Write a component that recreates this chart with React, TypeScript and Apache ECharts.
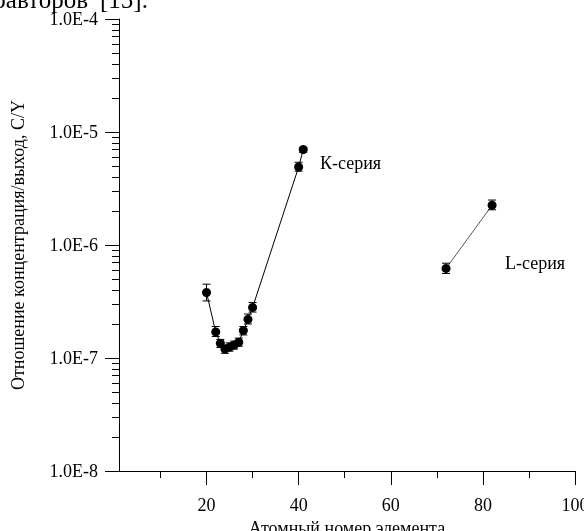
import React, { useEffect, useRef } from "react";
import * as echarts from "echarts";

// K-series (atomic number, C/Y ratio, error low, error high)
const kZ = [20, 22, 23, 24, 25, 26, 27, 28, 29, 30, 40, 41];
const kVal = [3.8e-7, 1.7e-7, 1.35e-7, 1.2e-7, 1.25e-7, 1.3e-7, 1.38e-7, 1.75e-7, 2.2e-7, 2.8e-7, 4.9e-6, 7.0e-6];
const kLow = [3.2e-7, 1.55e-7, 1.24e-7, 1.1e-7, 1.15e-7, 1.2e-7, 1.27e-7, 1.6e-7, 2.0e-7, 2.55e-7, 4.5e-6, 6.6e-6];
const kHigh = [4.5e-7, 1.9e-7, 1.46e-7, 1.3e-7, 1.36e-7, 1.41e-7, 1.5e-7, 1.9e-7, 2.45e-7, 3.1e-7, 5.4e-6, 7.3e-6];

// L-series
const lZ = [72, 82];
const lVal = [6.2e-7, 2.25e-6];
const lLow = [5.6e-7, 2.05e-6];
const lHigh = [6.9e-7, 2.5e-6];

// Axis ticks
const xMajorTicks = [20, 40, 60, 80, 100];
const xMinorTicks = [10, 30, 50, 70, 90];
const yDecades = [1e-8, 1e-7, 1e-6, 1e-5];
const yMultipliers = [2, 3, 4, 5, 6, 7, 8, 9];

const FONT = "'Liberation Serif', 'Times New Roman', serif";

export default function App() {
  const ref = useRef<HTMLDivElement>(null);
  useEffect(() => {
    if (!ref.current) return;
    const chart = echarts.init(ref.current, undefined, { renderer: "svg" });
    const yMinor: number[] = [];
    yDecades.forEach((d) => yMultipliers.forEach((m) => yMinor.push(Number((d * m).toPrecision(3)))));

    const errRender = (params: any, api: any) => {
      const x = api.value(0);
      const lo = api.coord([x, api.value(1)]);
      const hi = api.coord([x, api.value(2)]);
      const w = 4;
      const st = { stroke: "#000", lineWidth: 1 };
      return {
        type: "group",
        children: [
          { type: "line", shape: { x1: lo[0], y1: lo[1], x2: hi[0], y2: hi[1] }, style: st },
          { type: "line", shape: { x1: lo[0] - w, y1: lo[1], x2: lo[0] + w, y2: lo[1] }, style: st },
          { type: "line", shape: { x1: hi[0] - w, y1: hi[1], x2: hi[0] + w, y2: hi[1] }, style: st },
        ],
      };
    };

    const common = { min: 1, max: 100, type: "value" as const };
    chart.setOption({
      animation: false,
      grid: { left: 119, right: 9, top: 19, bottom: 60, containLabel: false, outerBoundsMode: "none" },
      xAxis: [
        {
          ...common,
          position: "bottom",
          name: "Атомный номер элемента",
          nameLocation: "middle",
          nameGap: 39,
          nameTextStyle: { fontFamily: FONT, fontSize: 18, color: "#000" },
          axisLine: { show: true, onZero: false, lineStyle: { color: "#000", width: 1 } },
          axisTick: { show: true, customValues: xMajorTicks, length: 14, lineStyle: { color: "#000" } },
          axisLabel: { show: true, customValues: xMajorTicks, margin: 25, fontFamily: FONT, fontSize: 18, color: "#000" },
          splitLine: { show: false },
        },
        {
          ...common,
          position: "bottom",
          axisLine: { show: false },
          axisTick: { show: true, customValues: xMinorTicks, length: 7, lineStyle: { color: "#000" } },
          axisLabel: { show: false },
          splitLine: { show: false },
        },
      ],
      yAxis: [
        {
          type: "log",
          logBase: 10,
          min: 1e-8,
          max: 1e-4,
          position: "left",
          name: "Отношение концентрация/выход, C/Y",
          nameLocation: "middle",
          nameGap: 92,
          nameTextStyle: { fontFamily: FONT, fontSize: 18, color: "#000" },
          axisLine: { show: true, onZero: false, lineStyle: { color: "#000", width: 1 } },
          axisTick: { show: true, length: 14, lineStyle: { color: "#000" } },
          axisLabel: {
            margin: 21,
            fontFamily: FONT,
            fontSize: 18,
            color: "#000",
            formatter: (v: number) => v.toExponential(1).toUpperCase(),
          },
          splitLine: { show: false },
        },
        {
          type: "log",
          logBase: 10,
          min: 1e-8,
          max: 1e-4,
          position: "left",
          axisLine: { show: false },
          axisTick: { show: true, customValues: yMinor, length: 7, lineStyle: { color: "#000" } },
          axisLabel: { show: false },
          splitLine: { show: false },
        },
      ],
      series: [
        {
          type: "line",
          xAxisIndex: 0,
          yAxisIndex: 0,
          data: kZ.map((z, i) => [z, kVal[i]]),
          symbol: "circle",
          symbolSize: 9,
          itemStyle: { color: "#000" },
          lineStyle: { color: "#000", width: 1 },
          z: 3,
        },
        {
          type: "line",
          xAxisIndex: 0,
          yAxisIndex: 0,
          data: lZ.map((z, i) => [z, lVal[i]]),
          symbol: "circle",
          symbolSize: 9,
          itemStyle: { color: "#000" },
          lineStyle: { color: "#555", width: 1 },
          z: 3,
        },
        {
          type: "custom",
          xAxisIndex: 0,
          yAxisIndex: 0,
          renderItem: errRender,
          data: kZ.map((z, i) => [z, kLow[i], kHigh[i]]).concat(lZ.map((z, i) => [z, lLow[i], lHigh[i]])),
          z: 4,
        },
      ],
      graphic: [
        {
          type: "text",
          x: 88,
          y: 12,
          style: { text: "соавторов", font: `25px ${FONT}`, fill: "#000", align: "right", verticalAlign: "bottom" },
        },
        {
          type: "text",
          x: 100,
          y: 12,
          style: { text: "[15].", font: `25px ${FONT}`, fill: "#000", align: "left", verticalAlign: "bottom" },
        },
        {
          type: "text",
          x: 320,
          y: 163,
          style: { text: "К-серия", font: `18px ${FONT}`, fill: "#000", align: "left", verticalAlign: "middle" },
        },
        {
          type: "text",
          x: 505,
          y: 263,
          style: { text: "L-серия", font: `18px ${FONT}`, fill: "#000", align: "left", verticalAlign: "middle" },
        },
      ],
    });
    return () => chart.dispose();
  }, []);
  return <div ref={ref} style={{ position: "fixed", left: 0, top: 0, width: 584, height: 531 }} />;
}
